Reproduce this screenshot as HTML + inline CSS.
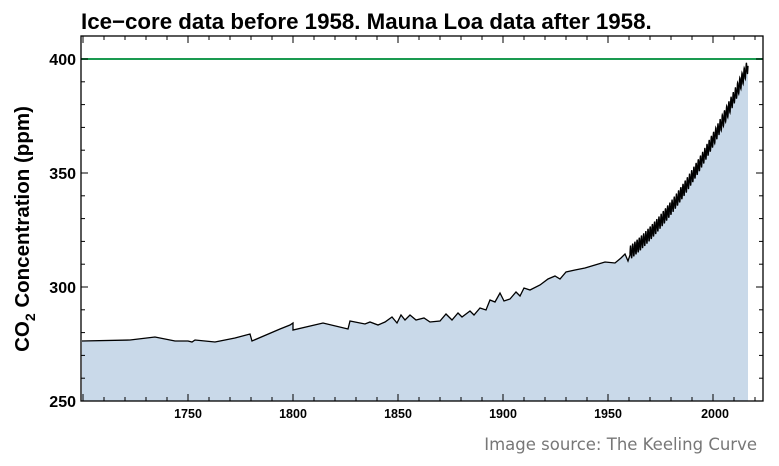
<!DOCTYPE html>
<html><head><meta charset="utf-8"><style>
html,body{margin:0;padding:0;background:#fff;}
svg{display:block;font-family:"Liberation Sans",Arial,sans-serif;}
</style></head><body>
<svg id="s" width="779" height="466" viewBox="0 0 779 466" xmlns="http://www.w3.org/2000/svg">
<text x="81" y="29" font-size="22.3" font-weight="bold" fill="#000">Ice−core data before 1958. Mauna Loa data after 1958.</text>
<path id="fill" fill="#c9d9e9" stroke="none"/>
<line x1="81" y1="59" x2="763" y2="59" stroke="#1a9a50" stroke-width="2"/>
<path id="line" fill="none" stroke="#000" stroke-width="1.3"/>
<g id="ticks" stroke="#000" stroke-width="1"></g>
<rect x="81" y="36" width="682" height="365" fill="none" stroke="#000" stroke-width="1.3"/>
<g font-size="16" font-weight="bold" text-anchor="end">
<text x="76" y="65">400</text><text x="76" y="179">350</text><text x="76" y="293">300</text><text x="76" y="407">250</text>
</g>
<g font-size="12.5" font-weight="bold" text-anchor="middle">
<text x="188" y="418">1750</text><text x="293" y="418">1800</text><text x="398" y="418">1850</text><text x="503" y="418">1900</text><text x="608" y="418">1950</text><text x="715" y="418">2000</text>
</g>
<text transform="translate(29,229) rotate(-90)" font-size="20.5" font-weight="bold" text-anchor="middle">CO<tspan font-size="14" dy="6">2</tspan><tspan dy="-6"> Concentration (ppm)</tspan></text>
<text x="757" y="450" font-size="16.5" fill="#777" text-anchor="end" font-family="DejaVu Sans, sans-serif">Image source: The Keeling Curve</text>
</svg>
<script>
var pts=[[82,341],[130,340],[155,337],[175,341],[188,341],[192,342],[195,340],[215,342],[220,341],[235,338],[250,334],[252,341],[280,329],[290,325],[293,323],[293,330],[323,323],[348,329],[350,321],[365,324],[370,322],[378,325],[385,322],[392,317],[397,323],[401,315],[405,320],[410,315],[416,320],[424,318],[430,322],[440,321],[446,314],[452,320],[458,313],[462,317],[470,311],[474,315],[480,308],[486,310],[490,300],[495,302],[500,293],[504,301],[510,299],[516,292],[520,296],[524,288],[530,290],[540,285],[548,279],[555,276],[560,279],[566,272],[575,270],[585,268],[595,265],[605,262],[615,263],[621,258],[625,254],[628,261],[630,255]];
for(var m=0;m<=54*12;m++){var dt=m/12;var p=315+0.8*dt+0.0133*dt*dt+3*Math.sin(dt*2*Math.PI);var x=630+dt*(748-630)/54;pts.push([x,401-(p-250)*2.28]);}
var d=pts.map(function(p,i){return (i?'L':'M')+p[0].toFixed(1)+' '+p[1].toFixed(1);}).join('');
document.getElementById('line').setAttribute('d',d);
var last=pts[pts.length-1];
document.getElementById('fill').setAttribute('d',d+'L'+last[0]+' 401L82 401Z');
var t='';
for(var y=1700;y<=2020;y+=10){var x=188+(y-1750)*2.1;if(x<82||x>762)continue;var L=(y%50==0)?7:4;t+='<line x1="'+x+'" y1="401" x2="'+x+'" y2="'+(401-L)+'"/><line x1="'+x+'" y1="36" x2="'+x+'" y2="'+(36+L)+'"/>';}
for(var v=250;v<=410;v+=10){var yy=401-(v-250)*2.28;if(yy<37)continue;var L=(v%50==0)?7:4;t+='<line x1="81" y1="'+yy+'" x2="'+(81+L)+'" y2="'+yy+'"/><line x1="763" y1="'+yy+'" x2="'+(763-L)+'" y2="'+yy+'"/>';}
document.getElementById('ticks').innerHTML=t;
</script>
</body></html>
